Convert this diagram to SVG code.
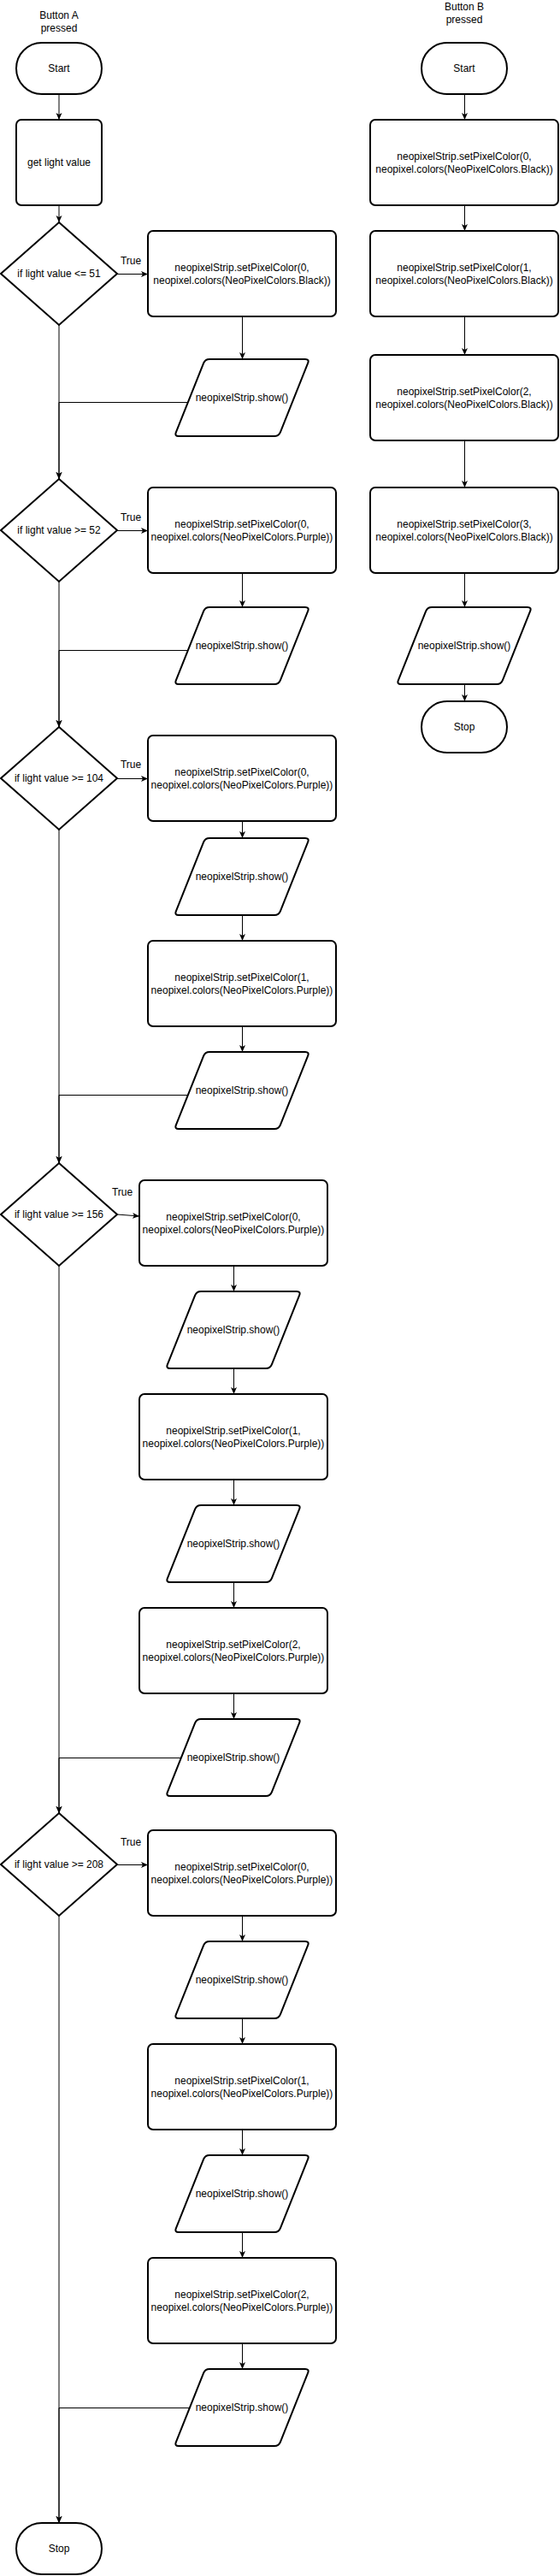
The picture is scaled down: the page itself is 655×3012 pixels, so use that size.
<svg xmlns="http://www.w3.org/2000/svg" xmlns:xlink="http://www.w3.org/1999/xlink" width="655" height="3012" viewBox="0 0 655 3012">
<style>
.shape{fill:#fff;stroke:#000;stroke-width:2}
.edge{fill:none;stroke:#000;stroke-width:1;marker-end:url(#arr)}
.line{fill:none;stroke:#000;stroke-width:1}
text{font-family:"Liberation Sans",Arial,Helvetica,sans-serif;font-size:12px;fill:#000;text-anchor:middle}
</style>
<defs>
<marker id="arr" viewBox="0 0 8 8" refX="8" refY="4" markerWidth="8" markerHeight="8" markerUnits="userSpaceOnUse" orient="auto"><path d="M0,0.5 L8,4 L0,7.5 L2,4 Z" fill="#000"/></marker>
<path id="para" d="M41,0 L153,0 Q158,0 156.1,4.6 L123.9,85.4 Q122,90 117,90 L5,90 Q0,90 1.9,85.4 L34.1,4.6 Q36,0 41,0 Z" fill="#fff" stroke="#000" stroke-width="2"/>
</defs>
<rect width="655" height="3012" fill="#fff"/>

<g id="connectors">
<path class="edge" d="M69,110 V140"/>
<path class="edge" d="M69,240 V260"/>
<path class="edge" d="M137,320.5 H173"/>
<path class="edge" d="M283.5,370 V420"/>
<path class="edge" d="M69,380 V560"/>
<path class="edge" d="M220,470.5 H69 V560"/>
<path class="edge" d="M137,620.5 H173"/>
<path class="edge" d="M283.5,670 V710"/>
<path class="edge" d="M69,680 V850"/>
<path class="edge" d="M220,760.5 H69 V850"/>
<path class="edge" d="M137,910.5 H173"/>
<path class="edge" d="M283.5,960 V980"/>
<path class="edge" d="M283.5,1070 V1100"/>
<path class="edge" d="M283.5,1200 V1230"/>
<path class="edge" d="M69,970 V1360"/>
<path class="edge" d="M220,1280.5 H69 V1360"/>
<path class="edge" d="M137,1420 L163,1422"/>
<path class="edge" d="M273.5,1480 V1510"/>
<path class="edge" d="M273.5,1600 V1630"/>
<path class="edge" d="M273.5,1730 V1760"/>
<path class="edge" d="M273.5,1850 V1880"/>
<path class="edge" d="M273.5,1980 V2010"/>
<path class="edge" d="M69,1480 V2120"/>
<path class="edge" d="M212,2055.5 H69 V2120"/>
<path class="edge" d="M137,2180.5 H173"/>
<path class="edge" d="M283.5,2240 V2270"/>
<path class="edge" d="M283.5,2360 V2390"/>
<path class="edge" d="M283.5,2490 V2520"/>
<path class="edge" d="M283.5,2610 V2640"/>
<path class="edge" d="M283.5,2740 V2770"/>
<path class="edge" d="M69,2240 V2950"/>
<path class="edge" d="M222,2815.5 H69 V2950"/>
<path class="edge" d="M543.5,110 V140"/>
<path class="edge" d="M543.5,240 V270"/>
<path class="edge" d="M543.5,370 V415"/>
<path class="edge" d="M543.5,515 V570"/>
<path class="edge" d="M543.5,670 V710"/>
<path class="edge" d="M543.5,800 V820"/>
</g>

<g id="labels">
<text x="153" y="309">True</text>
<text x="153" y="608.5">True</text>
<text x="153" y="898">True</text>
<text x="143" y="1398">True</text>
<text x="153" y="2158">True</text>
</g>

<g id="buttonA-label"><text x="69" y="22">Button A</text><text x="69" y="37">pressed</text></g>
<g id="startA"><rect class="shape" x="19" y="50" width="100" height="60" rx="30" ry="30"/><text x="69" y="84">Start</text></g>
<g id="getLight"><rect class="shape" x="19" y="140" width="100" height="100" rx="6"/><text x="69" y="194">get light value</text></g>

<g id="d1"><polygon class="shape" points="69,260 137,320 69,380 1,320"/><text x="69" y="324">if light value &lt;= 51</text></g>
<g id="box1"><rect class="shape" x="173" y="270" width="220" height="100" rx="6"/><text x="283" y="317">neopixelStrip.setPixelColor(0,</text><text x="283" y="332">neopixel.colors(NeoPixelColors.Black))</text></g>
<g id="para1"><use xlink:href="#para" x="204" y="420"/><text x="283" y="469">neopixelStrip.show()</text></g>

<g id="d2"><polygon class="shape" points="69,560 137,620 69,680 1,620"/><text x="69" y="624">if light value &gt;= 52</text></g>
<g id="box2"><rect class="shape" x="173" y="570" width="220" height="100" rx="6"/><text x="283" y="617">neopixelStrip.setPixelColor(0,</text><text x="283" y="632">neopixel.colors(NeoPixelColors.Purple))</text></g>
<g id="para2"><use xlink:href="#para" x="204" y="710"/><text x="283" y="759">neopixelStrip.show()</text></g>

<g id="d3"><polygon class="shape" points="69,850 137,910 69,970 1,910"/><text x="69" y="914">if light value &gt;= 104</text></g>
<g id="box3"><rect class="shape" x="173" y="860" width="220" height="100" rx="6"/><text x="283" y="907">neopixelStrip.setPixelColor(0,</text><text x="283" y="922">neopixel.colors(NeoPixelColors.Purple))</text></g>
<g id="para3"><use xlink:href="#para" x="204" y="980"/><text x="283" y="1029">neopixelStrip.show()</text></g>
<g id="box4"><rect class="shape" x="173" y="1100" width="220" height="100" rx="6"/><text x="283" y="1147">neopixelStrip.setPixelColor(1,</text><text x="283" y="1162">neopixel.colors(NeoPixelColors.Purple))</text></g>
<g id="para4"><use xlink:href="#para" x="204" y="1230"/><text x="283" y="1279">neopixelStrip.show()</text></g>

<g id="d4"><polygon class="shape" points="69,1360 137,1420 69,1480 1,1420"/><text x="69" y="1424">if light value &gt;= 156</text></g>
<g id="box5"><rect class="shape" x="163" y="1380" width="220" height="100" rx="6"/><text x="273" y="1427">neopixelStrip.setPixelColor(0,</text><text x="273" y="1442">neopixel.colors(NeoPixelColors.Purple))</text></g>
<g id="para5"><use xlink:href="#para" x="194" y="1510"/><text x="273" y="1559">neopixelStrip.show()</text></g>
<g id="box6"><rect class="shape" x="163" y="1630" width="220" height="100" rx="6"/><text x="273" y="1677">neopixelStrip.setPixelColor(1,</text><text x="273" y="1692">neopixel.colors(NeoPixelColors.Purple))</text></g>
<g id="para6"><use xlink:href="#para" x="194" y="1760"/><text x="273" y="1809">neopixelStrip.show()</text></g>
<g id="box7"><rect class="shape" x="163" y="1880" width="220" height="100" rx="6"/><text x="273" y="1927">neopixelStrip.setPixelColor(2,</text><text x="273" y="1942">neopixel.colors(NeoPixelColors.Purple))</text></g>
<g id="para7"><use xlink:href="#para" x="194" y="2010"/><text x="273" y="2059">neopixelStrip.show()</text></g>

<g id="d5"><polygon class="shape" points="69,2120 137,2180 69,2240 1,2180"/><text x="69" y="2184">if light value &gt;= 208</text></g>
<g id="box8"><rect class="shape" x="173" y="2140" width="220" height="100" rx="6"/><text x="283" y="2187">neopixelStrip.setPixelColor(0,</text><text x="283" y="2202">neopixel.colors(NeoPixelColors.Purple))</text></g>
<g id="para8"><use xlink:href="#para" x="204" y="2270"/><text x="283" y="2319">neopixelStrip.show()</text></g>
<g id="box9"><rect class="shape" x="173" y="2390" width="220" height="100" rx="6"/><text x="283" y="2437">neopixelStrip.setPixelColor(1,</text><text x="283" y="2452">neopixel.colors(NeoPixelColors.Purple))</text></g>
<g id="para9"><use xlink:href="#para" x="204" y="2520"/><text x="283" y="2569">neopixelStrip.show()</text></g>
<g id="box10"><rect class="shape" x="173" y="2640" width="220" height="100" rx="6"/><text x="283" y="2687">neopixelStrip.setPixelColor(2,</text><text x="283" y="2702">neopixel.colors(NeoPixelColors.Purple))</text></g>
<g id="para10"><use xlink:href="#para" x="204" y="2770"/><text x="283" y="2819">neopixelStrip.show()</text></g>
<g id="stopA"><rect class="shape" x="19" y="2950" width="100" height="60" rx="30" ry="30"/><text x="69" y="2984">Stop</text></g>

<g id="buttonB-label"><text x="543" y="11.5">Button B</text><text x="543" y="26.5">pressed</text></g>
<g id="startB"><rect class="shape" x="493" y="50" width="100" height="60" rx="30" ry="30"/><text x="543" y="84">Start</text></g>
<g id="boxB1"><rect class="shape" x="433" y="140" width="220" height="100" rx="6"/><text x="543" y="187">neopixelStrip.setPixelColor(0,</text><text x="543" y="202">neopixel.colors(NeoPixelColors.Black))</text></g>
<g id="boxB2"><rect class="shape" x="433" y="270" width="220" height="100" rx="6"/><text x="543" y="317">neopixelStrip.setPixelColor(1,</text><text x="543" y="332">neopixel.colors(NeoPixelColors.Black))</text></g>
<g id="boxB3"><rect class="shape" x="433" y="415" width="220" height="100" rx="6"/><text x="543" y="462">neopixelStrip.setPixelColor(2,</text><text x="543" y="477">neopixel.colors(NeoPixelColors.Black))</text></g>
<g id="boxB4"><rect class="shape" x="433" y="570" width="220" height="100" rx="6"/><text x="543" y="617">neopixelStrip.setPixelColor(3,</text><text x="543" y="632">neopixel.colors(NeoPixelColors.Black))</text></g>
<g id="paraB"><use xlink:href="#para" x="464" y="710"/><text x="543" y="759">neopixelStrip.show()</text></g>
<g id="stopB"><rect class="shape" x="493" y="820" width="100" height="60" rx="30" ry="30"/><text x="543" y="854">Stop</text></g>
</svg>
